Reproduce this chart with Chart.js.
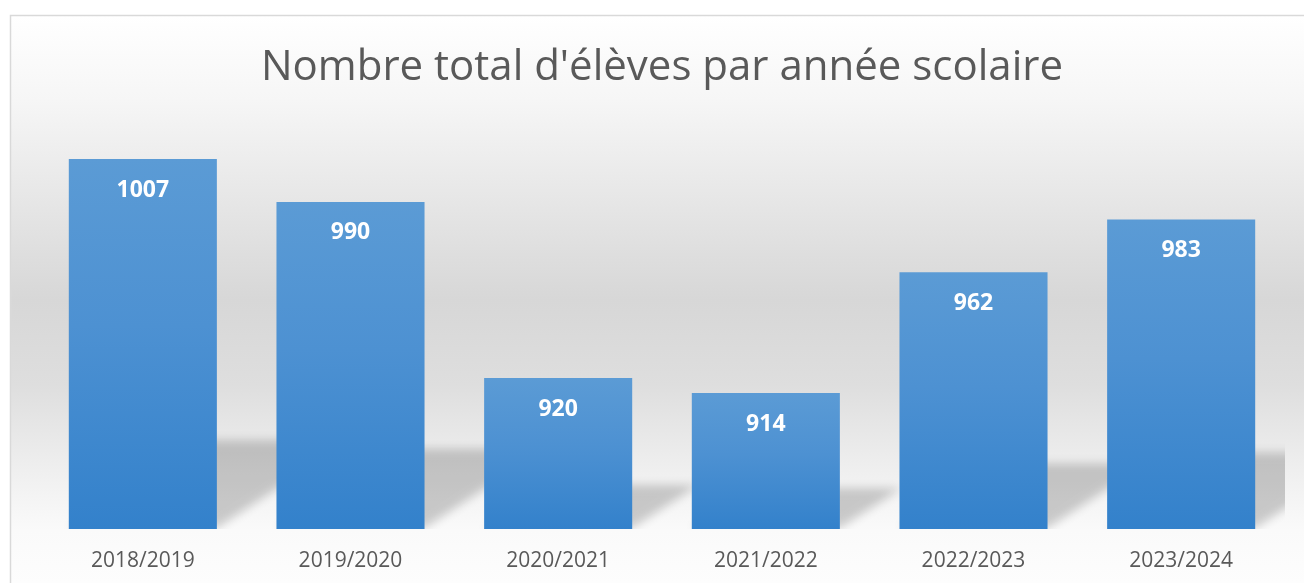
<!DOCTYPE html>
<html>
<head>
<meta charset="utf-8">
<script src="https://cdn.jsdelivr.net/npm/chart.js@4.4.0/dist/chart.umd.min.js"></script>
<style>
  html, body { margin: 0; padding: 0; background: #ffffff; }
  #wrap { position: relative; width: 1304px; height: 583px; }
  canvas { display: block; }
</style>
</head>
<body>
<div id="wrap"><canvas id="c" width="1304" height="583"></canvas></div>
<script>
const titleText = "Nombre total d'élèves par année scolaire";
const categories = ["2018/2019", "2019/2020", "2020/2021", "2021/2022", "2022/2023", "2023/2024"];
const students = [1007, 990, 920, 914, 962, 983];
const yMin = 860;
const yMax = 1020;

const backgroundPlugin = {
  id: 'bgPlugin',
  beforeDraw(chart) {
    const ctx = chart.ctx;
    const w = chart.width, h = chart.height;
    ctx.save();
    ctx.fillStyle = '#ffffff';
    ctx.fillRect(0, 0, w, h);
    const g = ctx.createLinearGradient(0, 15, 0, h);
    g.addColorStop(0, '#ffffff');
    g.addColorStop(85 / 568, '#f6f6f6');
    g.addColorStop(285 / 568, '#d7d7d7');
    g.addColorStop(370 / 568, '#dedede');
    g.addColorStop(455 / 568, '#efefef');
    g.addColorStop(515 / 568, '#fafafa');
    g.addColorStop(1, '#fdfdfd');
    ctx.fillStyle = g;
    ctx.fillRect(11, 16, w - 11, h - 16);
    ctx.strokeStyle = '#d9d9d9';
    ctx.lineWidth = 1.5;
    ctx.beginPath();
    ctx.moveTo(10.5, h + 2);
    ctx.lineTo(10.5, 15.5);
    ctx.lineTo(w + 2, 15.5);
    ctx.stroke();
    ctx.restore();
  }
};

const shadowPlugin = {
  id: 'shadowPlugin',
  beforeDatasetsDraw(chart) {
    const ctx = chart.ctx;
    const area = chart.chartArea;
    const meta = chart.getDatasetMeta(0);
    const base = chart.scales.y.getPixelForValue(yMin);
    const off = 5000;
    ctx.save();
    ctx.beginPath();
    ctx.rect(area.left, area.top, area.right - area.left, area.bottom - area.top);
    ctx.clip();
    ctx.fillStyle = 'rgba(0,0,0,1)';
    ctx.shadowColor = 'rgba(0,0,0,0.19)';
    ctx.shadowBlur = 10;
    ctx.shadowOffsetX = off;
    ctx.shadowOffsetY = 0;
    meta.data.forEach(bar => {
      const L = bar.x - bar.width / 2, R = bar.x + bar.width / 2;
      const sh = (base - bar.y) * 0.205 + 13;
      const dx = sh * 1.5;
      ctx.beginPath();
      ctx.moveTo(L - off, base - 1);
      ctx.lineTo(R - off, base - 1);
      ctx.lineTo(R + dx - off, base - sh);
      ctx.lineTo(L + dx - off, base - sh);
      ctx.closePath();
      ctx.fill();
    });
    ctx.restore();
  }
};

const labelPlugin = {
  id: 'labelPlugin',
  afterDatasetsDraw(chart) {
    const ctx = chart.ctx;
    const meta = chart.getDatasetMeta(0);
    const data = chart.data.datasets[0].data;
    ctx.save();
    ctx.fillStyle = '#ffffff';
    ctx.font = 'bold 23px "Open Sans"';
    ctx.textAlign = 'center';
    ctx.textBaseline = 'middle';
    meta.data.forEach((bar, i) => {
      ctx.fillText(String(data[i]), bar.x, bar.y + 31);
    });
    ctx.restore();
  }
};

function barGradient(context) {
  const chart = context.chart;
  const area = chart.chartArea;
  const ys = chart.scales && chart.scales.y;
  if (!area || !ys || context.type !== 'data') return '#4a8fd2';
  const top = ys.getPixelForValue(context.raw);
  const bottom = ys.getPixelForValue(yMin);
  if (!isFinite(top) || !isFinite(bottom) || bottom <= top) return '#4a8fd2';
  const g = chart.ctx.createLinearGradient(0, top, 0, bottom);
  g.addColorStop(0, '#5b9bd5');
  g.addColorStop(0.45, '#4d91d2');
  g.addColorStop(1, '#3381cb');
  return g;
}

new Chart(document.getElementById('c'), {
  type: 'bar',
  data: {
    labels: categories,
    datasets: [{
      data: students,
      backgroundColor: barGradient,
      borderWidth: 0,
      categoryPercentage: 1.0,
      barPercentage: 0.713
    }]
  },
  options: {
    responsive: false,
    animation: false,
    devicePixelRatio: 1,
    layout: { padding: { left: 39, right: 19, top: 0, bottom: 11 } },
    plugins: {
      legend: { display: false },
      tooltip: { enabled: false },
      title: {
        display: true,
        text: titleText,
        color: '#595959',
        font: { family: '"Open Sans"', size: 42, weight: 'normal', lineHeight: 1.2 },
        padding: { top: 43, bottom: 33 }
      }
    },
    scales: {
      x: {
        grid: { display: false, drawTicks: false },
        border: { display: false },
        ticks: {
          color: '#595959',
          font: { family: '"Open Sans"', size: 21 },
          padding: 19,
          maxRotation: 0
        },
        afterFit(scale) { scale.height = 43; }
      },
      y: {
        display: false,
        min: yMin,
        max: yMax
      }
    }
  },
  plugins: [backgroundPlugin, shadowPlugin, labelPlugin]
});
</script>
</body>
</html>
